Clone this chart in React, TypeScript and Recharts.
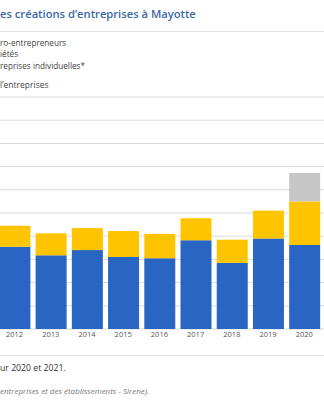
import React from "react";
import { BarChart, Bar, XAxis, YAxis, CartesianGrid } from "recharts";

const years = ["2012", "2013", "2014", "2015", "2016", "2017", "2018", "2019", "2020"];
const entreprisesIndividuelles = [710, 635, 680, 620, 610, 765, 570, 780, 725];
const societes = [180, 190, 190, 225, 210, 190, 200, 240, 375];
const microEntrepreneurs = [0, 0, 0, 0, 0, 0, 0, 0, 245];
const yTicks = [0, 200, 400, 600, 800, 1000, 1200, 1400, 1600, 1800, 2000];

const data = years.map((y, i) => ({
  year: y,
  ei: entreprisesIndividuelles[i],
  soc: societes[i],
  micro: microEntrepreneurs[i],
}));

const font = "'Open Sans', sans-serif";

const T: React.FC<{ top: number; size: number; color: string; weight?: number; italic?: boolean; children: React.ReactNode }> = ({ top, size, color, weight = 400, italic, children }) => (
  <div
    style={{
      position: "absolute",
      left: 0,
      top: top - 10,
      height: 20,
      lineHeight: "20px",
      fontSize: size,
      color,
      fontWeight: weight,
      fontStyle: italic ? "italic" : "normal",
      fontFamily: font,
      whiteSpace: "nowrap",
    }}
  >
    {children}
  </div>
);

export default function App() {
  return (
    <div style={{ position: "fixed", left: 0, top: 0, width: 324, height: 400, overflow: "hidden", background: "#fff" }}>
      <T top={14} size={11.2} color="#3a69a8" weight={600}>es créations d’entreprises à Mayotte</T>
      <div style={{ position: "absolute", left: 0, top: 31, width: 324, height: 1, background: "#e3e3e3" }} />
      <T top={42.7} size={8.2} color="#444">ro-entrepreneurs</T>
      <T top={54.3} size={8.2} color="#444">iétés</T>
      <T top={65.7} size={8.2} color="#444">reprises individuelles*</T>
      <T top={85.3} size={8.5} color="#444">l’entreprises</T>
      <div style={{ position: "absolute", left: -10, top: 0 }}>
        <BarChart width={340} height={345} data={data} margin={{ top: 97, right: 0, bottom: 0, left: 0 }}>
          <CartesianGrid vertical={false} stroke="#d9d9d9" strokeWidth={1} />
          <XAxis
            dataKey="year"
            axisLine={false}
            tickLine={false}
            tickSize={0}
            tickMargin={3}
            height={16}
            padding={{ left: 6.4, right: 7.6 }}
            tick={{ fontSize: 7.5, fill: "#555", fontFamily: font }}
            interval={0}
          />
          <YAxis hide domain={[0, 2000]} ticks={yTicks} />
          <Bar dataKey="ei" stackId="a" fill="#2966c4" barSize={31} isAnimationActive={false} />
          <Bar dataKey="soc" stackId="a" fill="#ffc400" barSize={31} isAnimationActive={false} />
          <Bar dataKey="micro" stackId="a" fill="#c6c6c6" barSize={31} isAnimationActive={false} />
        </BarChart>
      </div>
      <div style={{ position: "absolute", left: 0, top: 355, width: 324, height: 1, background: "#e3e3e3" }} />
      <T top={367.7} size={8.7} color="#333">ur 2020 et 2021.</T>
      <T top={390.7} size={8} color="#777" italic>entreprises et des établissements - Sirene).</T>
    </div>
  );
}
